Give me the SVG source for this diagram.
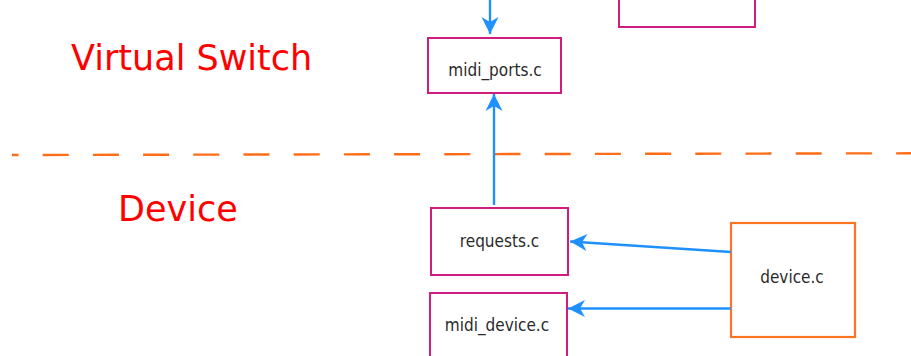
<svg xmlns="http://www.w3.org/2000/svg" width="911" height="356" viewBox="0 0 911 356">
  <style>
    .mod { fill: #ffffff; stroke: #d01c7c; stroke-width: 2; }
    .dev { fill: #ffffff; stroke: #ff7420; stroke-width: 2.2; }
    .lbl { font-family: "DejaVu Sans Condensed", "DejaVu Sans", sans-serif; font-size: 17px; fill: #2a2a2a; text-anchor: middle; }
    .zone { font-family: "DejaVu Sans", sans-serif; font-size: 35px; fill: #ff0000; }
    .link { fill: none; stroke: #1e90ff; stroke-width: 2.4; }
    .sep { fill: none; stroke: #ff6c17; stroke-width: 2.4; stroke-dasharray: 26 24.2; stroke-dashoffset: 19.5; }
  </style>
  <defs>
    <marker id="head" markerUnits="userSpaceOnUse" markerWidth="20" markerHeight="20" viewBox="-18 -10 19 20" refX="0" refY="0" orient="auto">
      <path d="M0,0 L-17,-8.5 L-12,0 L-17,8.5 Z" fill="#1e90ff"/>
    </marker>
  </defs>

  <!-- layer labels and boundary -->
  <text class="zone" x="71" y="70">Virtual Switch</text>
  <text class="zone" x="118" y="221">Device</text>
  <line class="sep" x1="12" y1="155" x2="911" y2="153.3"/>

  <!-- modules -->
  <g id="upper-module">
    <rect class="mod" x="619" y="-10" width="136" height="37"/>
  </g>
  <g id="midi-ports">
    <rect class="mod" x="428" y="38" width="133" height="55"/>
    <text class="lbl" x="495" y="76">midi_ports.c</text>
  </g>
  <g id="requests">
    <rect class="mod" x="431" y="208" width="137" height="67"/>
    <text class="lbl" x="499.5" y="247">requests.c</text>
  </g>
  <g id="midi-device">
    <rect class="mod" x="430" y="293" width="137" height="80"/>
    <text class="lbl" x="497" y="331">midi_device.c</text>
  </g>
  <g id="device">
    <rect class="dev" x="731" y="223" width="124" height="114"/>
    <text class="lbl" x="792" y="283">device.c</text>
  </g>

  <!-- connectors -->
  <g id="connectors">
    <line class="link" x1="490" y1="0" x2="490" y2="34" marker-end="url(#head)"/>
    <line class="link" x1="494" y1="205" x2="494" y2="94" marker-end="url(#head)"/>
    <line class="link" x1="731" y1="252" x2="570" y2="241.5" marker-end="url(#head)"/>
    <line class="link" x1="731" y1="308.5" x2="568" y2="308.5" marker-end="url(#head)"/>
  </g>
</svg>
